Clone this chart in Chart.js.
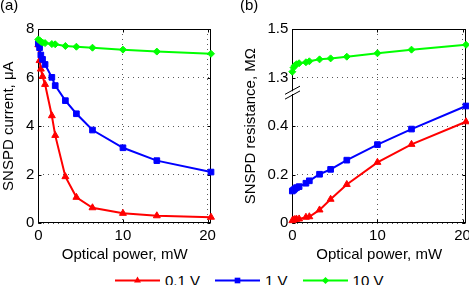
<!DOCTYPE html>
<html><head><meta charset="utf-8">
<script src="https://cdn.jsdelivr.net/npm/chart.js@4/dist/chart.umd.min.js"></script>
<style>
html,body{margin:0;padding:0;background:#fff;overflow:hidden;width:469px;height:285px;}
body{position:relative;font-family:"Liberation Sans",Arial,sans-serif;color:#000;}
canvas{position:absolute;top:0;}
#ca{left:0;} #cb{left:235px;}
.lab{position:absolute;top:-3px;font-size:15px;line-height:15px;}
#legend{position:absolute;left:115px;top:273px;display:flex;align-items:center;font-size:15px;line-height:15px;}
.item{display:flex;align-items:center;margin-right:15px;}
.item span{margin-left:5px;}
</style></head><body>
<canvas id="ca" width="235" height="268"></canvas>
<canvas id="cb" width="260" height="268"></canvas>
<div class="lab" style="left:0">(a)</div>
<div class="lab" style="left:240px">(b)</div>
<div id="legend"></div>
<script>
// ---- data ----
const power = [0, 0.15, 0.3, 0.5, 0.8, 1.6, 2, 3.2, 4.5, 6.4, 10, 14, 20.4];
const seriesNames = ['0.1 V', '1 V', '10 V'];
// (a) SNSPD current, uA
const currentLow  = [7.35, 6.7, 6.35, 6.05, 5.72, 4.43, 3.62, 1.92, 1.07, 0.64, 0.41, 0.31, 0.25];
const currentMid  = [7.4, 7.23, 6.93, 6.75, 6.54, 6.01, 5.67, 5.05, 4.51, 3.84, 3.11, 2.58, 2.11];
const currentHigh = [7.57, 7.53, 7.48, 7.44, 7.42, 7.38, 7.37, 7.3, 7.27, 7.23, 7.15, 7.07, 6.98];
// (b) SNSPD resistance, MOhm
const resistLow  = [0.011, 0.014, 0.016, 0.017, 0.018, 0.025, 0.027, 0.055, 0.099, 0.16, 0.251, 0.325, 0.418];
const resistMid  = [0.133, 0.137, 0.142, 0.147, 0.151, 0.165, 0.175, 0.202, 0.222, 0.26, 0.324, 0.388, 0.483];
const resistHigh = [1.324, 1.341, 1.35, 1.355, 1.359, 1.363, 1.367, 1.375, 1.379, 1.386, 1.40, 1.415, 1.435];
// ticks
const xTicks = [0, 10, 20];
const yTicksA = [0, 2, 4, 6, 8];
const yTickLabelsB = ['0', '0.2', '0.4', '1.3', '1.5'];
const xMax = 20.4;

// broken axis mapping for panel (b): 0..0.4 -> 0..4, 1.3..1.5 -> 6..8
function toBroken(r) { return r < 1 ? r * 10 : 6 + (r - 1.3) * 10; }

const colors = ['#ff0000', '#0000ff', '#00ff00'];
const markers = ['triangle', 'rect', 'rectRot'];
const radii = [4, 4, 3.5];
const FONT = '"Liberation Sans", Arial, sans-serif';

function makeDatasets(seriesList, fn) {
  return seriesList.map((vals, i) => ({
    label: seriesNames[i],
    data: power.map((p, j) => ({x: p, y: fn ? fn(vals[j]) : vals[j]})),
    borderColor: colors[i], backgroundColor: colors[i],
    borderWidth: 2, pointStyle: markers[i], pointRadius: radii[i],
    pointBorderWidth: 1, clip: false, tension: 0
  })).reverse();
}

const frame = {
  id: 'frame',
  beforeDatasetsDraw(c) {
    const a = c.chartArea, ctx = c.ctx;
    ctx.save();
    ctx.strokeStyle = '#000'; ctx.lineWidth = 1;
    const l = Math.round(a.left) + 0.5, r = Math.round(a.right) - 0.5;
    const t = Math.round(a.top) + 0.5, b = Math.round(a.bottom) - 0.5;
    ctx.strokeRect(l, t, r - l, b - t);
    // inward tick marks
    const tl = 3;
    c.scales.x.ticks.forEach(tk => {
      const px = Math.round(c.scales.x.getPixelForValue(tk.value)) + 0.5;
      ctx.beginPath(); ctx.moveTo(px, b); ctx.lineTo(px, b - tl); ctx.moveTo(px, t); ctx.lineTo(px, t + tl); ctx.stroke();
    });
    c.scales.y.ticks.forEach(tk => {
      const py = Math.round(c.scales.y.getPixelForValue(tk.value)) + 0.5;
      ctx.beginPath(); ctx.moveTo(l, py); ctx.lineTo(l + tl, py); ctx.moveTo(r, py); ctx.lineTo(r - tl, py); ctx.stroke();
    });
    ctx.restore();
  }
};

function makeOptions(yTitle, yWidth, yTickCb, titlePad) {
  return {
    responsive: false, animation: false, devicePixelRatio: 1,
    layout: {padding: {top: 29, left: 0, right: 0, bottom: 0}},
    plugins: {legend: {display: false}, tooltip: {enabled: false}},
    scales: {
      x: {
        type: 'linear', min: 0, max: xMax,
        afterBuildTicks: s => { s.ticks = xTicks.map(v => ({value: v})); },
        afterFit: s => { s.height = 268 - 223.3; },
        grid: {color: 'rgba(0,0,0,0.65)', lineWidth: 1, drawTicks: false},
        border: {display: false, dash: [1, 4]},
        ticks: {color: '#000', font: {family: FONT, size: 15}, padding: 4, maxRotation: 0},
        title: {display: true, text: 'Optical power, mW', color: '#000', font: {family: FONT, size: 15}, padding: {top: 0, bottom: 4}}
      },
      y: {
        type: 'linear', min: 0, max: 8,
        afterBuildTicks: s => { s.ticks = yTicksA.map(v => ({value: v})); },
        afterFit: s => { s.width = yWidth; },
        grid: {color: 'rgba(0,0,0,0.65)', lineWidth: 1, drawTicks: false},
        border: {display: false, dash: [1, 4]},
        ticks: {color: '#000', font: {family: FONT, size: 15}, padding: 4, callback: yTickCb},
        title: {display: true, text: yTitle, color: '#000', font: {family: FONT, size: 15}, padding: {top: titlePad, bottom: 0}}
      }
    }
  };
}

const optA = makeOptions('SNSPD current, μA', 38.3, v => String(v), 0);
optA.layout.padding.right = 24;
new Chart(document.getElementById('ca'), {
  type: 'line',
  data: {datasets: makeDatasets([currentLow, currentMid, currentHigh])},
  options: optA,
  plugins: [frame]
});

const breakMark = {
  id: 'breakMark',
  afterDraw(c) {
    const ctx = c.ctx, y = c.scales.y;
    const x = Math.round(c.chartArea.left) + 0.5;
    const yc = y.getPixelForValue(5.38);
    const hw = 7.5, hd = 4.1, sep = 2.4;
    ctx.save();
    ctx.fillStyle = '#fff';
    ctx.fillRect(x - 2, yc - sep + 1, 4, 2 * sep - 2);
    ctx.strokeStyle = '#000'; ctx.lineWidth = 1;
    [-sep, sep].forEach(o => {
      ctx.beginPath();
      ctx.moveTo(x - hw, yc + o + hd);
      ctx.lineTo(x + hw, yc + o - hd);
      ctx.stroke();
    });
    ctx.restore();
  }
};

const optB = makeOptions('SNSPD resistance, MΩ', 57.3, (v, i) => yTickLabelsB[yTicksA.indexOf(v)], 6.5);
optB.layout.padding.right = 29;
new Chart(document.getElementById('cb'), {
  type: 'line',
  data: {datasets: makeDatasets([resistLow, resistMid, resistHigh], toBroken)},
  options: optB,
  plugins: [frame, breakMark]
});

// legend
const leg = document.getElementById('legend');
const svgNS = 'http://www.w3.org/2000/svg';
seriesNames.forEach((name, i) => {
  const item = document.createElement('div'); item.className = 'item';
  const svg = document.createElementNS(svgNS, 'svg');
  svg.setAttribute('width', '45'); svg.setAttribute('height', '15');
  const ln = document.createElementNS(svgNS, 'line');
  ln.setAttribute('x1', '0'); ln.setAttribute('x2', '45'); ln.setAttribute('y1', '7.5'); ln.setAttribute('y2', '7.5');
  ln.setAttribute('stroke', colors[i]); ln.setAttribute('stroke-width', '2');
  svg.appendChild(ln);
  const m = document.createElementNS(svgNS, 'polygon');
  const cx = 22.5, cy = 7.5, r = radii[i];
  let pts;
  if (markers[i] === 'triangle') pts = [[cx, cy - r], [cx + r * 0.866, cy + r / 2], [cx - r * 0.866, cy + r / 2]];
  else if (markers[i] === 'rect') { const h = r * 0.707; pts = [[cx - h, cy - h], [cx + h, cy - h], [cx + h, cy + h], [cx - h, cy + h]]; }
  else pts = [[cx, cy - r], [cx + r, cy], [cx, cy + r], [cx - r, cy]];
  m.setAttribute('points', pts.map(p => p.join(',')).join(' '));
  m.setAttribute('fill', colors[i]);
  svg.appendChild(m);
  const sp = document.createElement('span'); sp.textContent = name;
  item.appendChild(svg); item.appendChild(sp);
  leg.appendChild(item);
});
</script>
</body></html>
